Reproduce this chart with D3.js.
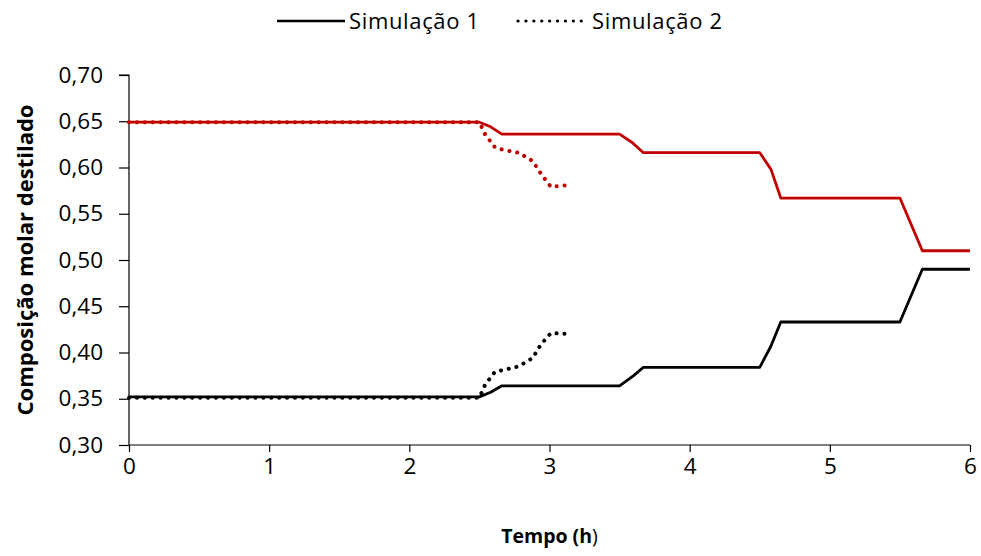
<!DOCTYPE html>
<html>
<head>
<meta charset="utf-8">
<script src="https://cdn.jsdelivr.net/npm/d3@7"></script>
<style>
  body { margin: 0; background: #fff; }
  svg text { font-family: "Open Sans", "Noto Sans", sans-serif; fill: #000; }
</style>
</head>
<body>
<svg id="chart" width="981" height="556"></svg>
<script>
// Simulação 1 - tempo (h) e composição
const sim1Red = [
    [0, 0.649], [2.5, 0.649], [2.58, 0.644], [2.66, 0.636], [3.5, 0.636],
    [3.59, 0.627], [3.67, 0.616], [4.5, 0.616], [4.58, 0.598], [4.65, 0.567],
    [5.5, 0.567], [5.66, 0.510], [6, 0.510]
];
const sim1Black = [
    [0, 0.352], [2.5, 0.352], [2.58, 0.357], [2.66, 0.364], [3.5, 0.364],
    [3.6, 0.375], [3.67, 0.384], [4.5, 0.384], [4.58, 0.407], [4.65, 0.433],
    [5.5, 0.433], [5.66, 0.490], [6, 0.490]
];
// Simulação 2
const sim2Red = [
    [0, 0.649], [2.5, 0.649], [2.54, 0.636], [2.61, 0.622], [2.67, 0.619],
    [2.78, 0.616], [2.88, 0.607], [2.94, 0.593], [3.01, 0.579], [3.14, 0.581]
];
const sim2Black = [
    [0, 0.351], [2.5, 0.351], [2.54, 0.365], [2.61, 0.379], [2.67, 0.381],
    [2.78, 0.385], [2.88, 0.394], [2.94, 0.409], [3.01, 0.421], [3.14, 0.420]
];
const xTicks = [0, 1, 2, 3, 4, 5, 6];
const yTicks = [0.30, 0.35, 0.40, 0.45, 0.50, 0.55, 0.60, 0.65, 0.70];
const legendLabels = ['Simulação 1', 'Simulação 2'];

const svg = d3.select('#chart');
const margin = {left: 129, right: 11, top: 75, bottom: 111};
const W = 981, H = 556;

const x = d3.scaleLinear().domain([0, 6]).range([margin.left, W - margin.right]);
const y = d3.scaleLinear().domain([0.30, 0.70]).range([H - margin.bottom, margin.top]);

const fmt = d => d3.format('.2f')(d).replace('.', ',');

// Axes
const yAxis = svg.append('g')
    .attr('transform', `translate(${margin.left},0)`)
    .call(d3.axisLeft(y).tickValues(yTicks).tickFormat(fmt).tickSize(10).tickPadding(16));
const xAxis = svg.append('g')
    .attr('transform', `translate(0,${H - margin.bottom})`)
    .call(d3.axisBottom(x).tickValues(xTicks).tickFormat(d3.format('d')).tickSize(7).tickPadding(6));

[xAxis, yAxis].forEach(a => {
    a.select('.domain').attr('stroke', '#000').attr('stroke-width', 1.2);
    a.selectAll('.tick line').attr('stroke', '#000').attr('stroke-width', 1.2);
    a.selectAll('.tick text').attr('font-size', 22.5).style('font-family', '"Open Sans", sans-serif');
});
yAxis.select('.domain').attr('d', `M-10,${y(0.70)}H0V${y(0.30)}`);
xAxis.select('.domain').attr('d', `M${x(0)},0H${x(6)}`);

// Lines
const line = d3.line().x(d => x(d[0])).y(d => y(d[1]));
const series = [
    {data: sim1Red, color: '#c00000', dash: null},
    {data: sim1Black, color: '#000000', dash: null},
    {data: sim2Red, color: '#c00000', dash: '0.1 7.8'},
    {data: sim2Black, color: '#000000', dash: '0.1 7.8'}
];
svg.append('g').selectAll('path')
    .data(series)
    .join('path')
    .attr('d', d => line(d.data))
    .attr('fill', 'none')
    .attr('stroke', d => d.color)
    .attr('stroke-width', d => d.dash ? 4 : 2.8)
    .attr('stroke-linecap', d => d.dash ? 'round' : 'butt')
    .attr('stroke-linejoin', 'round')
    .attr('stroke-dasharray', d => d.dash);

// Legend
const legend = svg.append('g');
const legendItems = [
    {label: legendLabels[0], x1: 277, x2: 345, tx: 349, dash: null},
    {label: legendLabels[1], x1: 518, x2: 589, tx: 592, dash: '0.1 7.8'}
];
legendItems.forEach(it => {
    legend.append('line')
        .attr('x1', it.x1).attr('x2', it.x2)
        .attr('y1', 21).attr('y2', 21)
        .attr('stroke', '#000')
        .attr('stroke-width', it.dash ? 3.2 : 2.6)
        .attr('stroke-linecap', it.dash ? 'round' : 'butt')
        .attr('stroke-dasharray', it.dash);
    legend.append('text')
        .attr('x', it.tx).attr('y', 29)
        .attr('font-size', 22)
        .attr('textLength', 130)
        .text(it.label);
});

// Axis titles
svg.append('text')
    .attr('transform', `translate(33,${(y(0.30) + y(0.70)) / 2}) rotate(-90)`)
    .attr('text-anchor', 'middle')
    .attr('font-size', 22)
    .attr('font-weight', 'bold')
    .text('Composição molar destilado');

const xt = svg.append('text')
    .attr('x', (x(0) + x(6)) / 2)
    .attr('y', 543)
    .attr('text-anchor', 'middle')
    .attr('font-size', 19.5);
xt.append('tspan').attr('font-weight', 'bold').text('Tempo (h');
xt.append('tspan').text(')');
</script>
</body>
</html>
